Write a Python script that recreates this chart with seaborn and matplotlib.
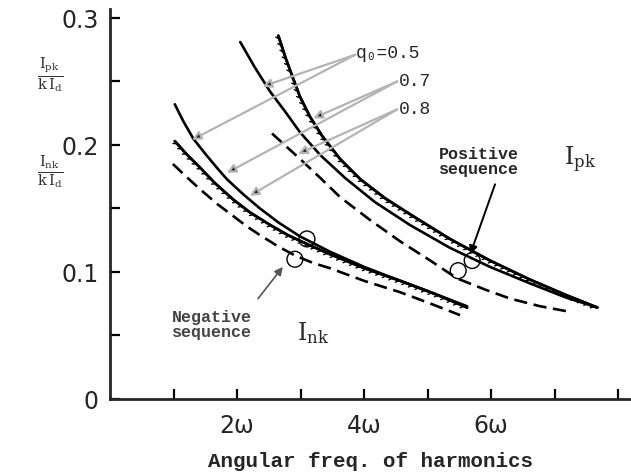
import matplotlib
matplotlib.use("Agg")
import matplotlib.pyplot as plt
import matplotlib.patheffects as pe
import seaborn as sns
import pandas as pd

sns.set_style("ticks")
plt.rcParams["font.family"] = ["DejaVu Sans"]
plt.rcParams["mathtext.fontset"] = "dejavuserif"

# --- data (x in multiples of omega, y in p.u.) ---
# negative sequence group (I_nk / k I_d)
neg_05_x = [1.02, 1.15, 1.31, 1.50, 1.70, 1.84, 2.10, 2.36, 2.65, 2.99, 3.46, 4.00, 4.57, 5.10, 5.62]
neg_05_y = [0.232, 0.219, 0.205, 0.193, 0.181, 0.173, 0.161, 0.150, 0.139, 0.128, 0.116, 0.104, 0.093, 0.083, 0.073]
neg_07_x = [1.02, 1.20, 1.42, 1.65, 1.94, 2.20, 2.52, 2.80, 3.10, 3.46, 4.00, 4.57, 5.10, 5.62]
neg_07_y = [0.203, 0.193, 0.182, 0.170, 0.157, 0.147, 0.137, 0.129, 0.122, 0.114, 0.103, 0.093, 0.083, 0.072]
neg_08_x = [0.99, 1.20, 1.42, 1.70, 1.94, 2.15, 2.36, 2.65, 2.91, 3.20, 3.46, 4.00, 4.57, 5.05, 5.51]
neg_08_y = [0.185, 0.175, 0.165, 0.153, 0.144, 0.136, 0.129, 0.120, 0.113, 0.107, 0.103, 0.093, 0.084, 0.075, 0.066]

# positive sequence group (I_pk / k I_d)
pos_05_x = [2.05, 2.28, 2.52, 2.76, 2.99, 3.31, 3.70, 4.17, 4.72, 5.35, 5.98, 6.61, 7.17, 7.67]
pos_05_y = [0.281, 0.261, 0.242, 0.226, 0.210, 0.192, 0.174, 0.155, 0.137, 0.119, 0.104, 0.091, 0.080, 0.072]
pos_07_x = [2.65, 2.76, 2.87, 2.99, 3.15, 3.34, 3.62, 3.94, 4.33, 4.80, 5.35, 5.98, 6.61, 7.17, 7.67]
pos_07_y = [0.286, 0.269, 0.254, 0.238, 0.222, 0.207, 0.189, 0.173, 0.158, 0.143, 0.126, 0.109, 0.094, 0.082, 0.072]
pos_08_x = [2.55, 2.77, 2.99, 3.31, 3.62, 4.09, 4.57, 5.04, 5.46, 5.91, 6.30, 6.77, 7.20]
pos_08_y = [0.209, 0.199, 0.189, 0.174, 0.159, 0.141, 0.124, 0.109, 0.095, 0.086, 0.079, 0.073, 0.069]

# small circles marking the crossing points
circle_x = [3.10, 2.91, 5.70, 5.48]
circle_y = [0.126, 0.110, 0.109, 0.101]

x_ticks = [1, 2, 3, 4, 5, 6, 7, 8]
x_labels = ["", "2ω", "", "4ω", "", "6ω", "", ""]
y_ticks = [0, 0.05, 0.1, 0.15, 0.2, 0.25, 0.3]
y_labels = ["0", "", "0.1", "", "0.2", "", "0.3"]

fig = plt.figure(figsize=(6.31, 4.77), dpi=100)
ax = fig.add_axes([110 / 631, 77 / 477, 521 / 631, 390 / 477])

hatch = [pe.withTickedStroke(angle=-135, length=0.6, spacing=5, linewidth=1.0), pe.Normal()]

curves = [
    (neg_05_x, neg_05_y, "-", None),
    (neg_07_x, neg_07_y, "-", hatch),
    (neg_08_x, neg_08_y, (5, 2.5), None),
    (pos_05_x, pos_05_y, "-", None),
    (pos_07_x, pos_07_y, "-", hatch),
    (pos_08_x, pos_08_y, (5, 2.5), None),
]
for xs, ys, ls, fx in curves:
    df = pd.DataFrame({"x": xs, "y": ys})
    kw = {}
    if fx is not None:
        kw["path_effects"] = fx
    line = sns.lineplot(data=df, x="x", y="y", ax=ax, color="black", lw=1.9, **kw).lines[-1]
    if ls != "-":
        line.set_dashes(ls)

sns.scatterplot(x=circle_x, y=circle_y, ax=ax, s=130, facecolor="none",
                edgecolor="black", linewidth=1.0, zorder=5)

ax.set_xlim(0, 8.2)
ax.set_ylim(0, 0.307)
ax.set_xticks(x_ticks)
ax.set_xticklabels(x_labels, fontsize=17)
ax.set_yticks(y_ticks)
ax.set_yticklabels(y_labels, fontsize=17)
ax.tick_params(axis="both", direction="in", length=7, width=1.6, color="black")
ax.tick_params(axis="x", pad=10)
ax.tick_params(axis="y", pad=8)
sns.despine(ax=ax)
for side in ["left", "bottom"]:
    ax.spines[side].set_linewidth(2.0)
ax.set_xlabel("Angular freq. of harmonics", fontsize=15, fontweight="bold",
              family=["Liberation Mono", "DejaVu Sans Mono"], labelpad=10)
ax.set_ylabel("")

mono = ["Liberation Mono", "DejaVu Sans Mono"]
ax.text(3.86, 0.273, "q₀=0.5", fontsize=13, family=mono, ha="left", va="center")
ax.text(4.54, 0.251, "0.7", fontsize=13, family=mono, ha="left", va="center")
ax.text(4.54, 0.229, "0.8", fontsize=13, family=mono, ha="left", va="center")
ax.text(5.80, 0.187, "Positive\nsequence", fontsize=12, family=mono, fontweight="bold",
        ha="center", va="center", linespacing=1.0)
ax.text(7.15, 0.189, r"$\mathrm{I}_{\mathrm{pk}}$", fontsize=17, ha="left", va="center")
ax.text(1.61, 0.059, "Negative\nsequence", fontsize=12, family=mono, fontweight="bold",
        ha="center", va="center", linespacing=1.0, color="#444444")
ax.text(2.95, 0.053, r"$\mathrm{I}_{\mathrm{nk}}$", fontsize=17, ha="left", va="center")

# leader lines from the q0 labels to the curves (grey line, dark head)
leaders = [
    ((3.86, 0.271), (1.29, 0.204)),
    ((3.86, 0.271), (2.40, 0.246)),
    ((4.52, 0.250), (1.84, 0.178)),
    ((4.52, 0.250), (3.20, 0.221)),
    ((4.52, 0.228), (2.20, 0.160)),
    ((4.52, 0.228), (2.96, 0.193)),
]
for start, end in leaders:
    ax.annotate("", xy=end, xytext=start,
                arrowprops=dict(arrowstyle="-|>", edgecolor="#b4b4b4", facecolor="#222222",
                                lw=1.6, mutation_scale=13, shrinkA=0, shrinkB=0))

ax.annotate("", xy=(5.67, 0.114), xytext=(6.06, 0.169),
            arrowprops=dict(arrowstyle="-|>", color="black", lw=1.4, mutation_scale=12,
                            shrinkA=0, shrinkB=0))
ax.annotate("", xy=(2.72, 0.104), xytext=(2.33, 0.079),
            arrowprops=dict(arrowstyle="-|>", color="#555555", lw=1.2, mutation_scale=12,
                            shrinkA=0, shrinkB=0))

fig.text(50 / 631, 1 - 75 / 477, r"$\frac{\mathrm{I_{pk}}}{\mathrm{k\,I_d}}$", fontsize=15,
         ha="center", va="center", color="#333333")
fig.text(50 / 631, 1 - 172 / 477, r"$\frac{\mathrm{I_{nk}}}{\mathrm{k\,I_d}}$", fontsize=15,
         ha="center", va="center", color="#333333")

fig.savefig("out.png", dpi=100)
